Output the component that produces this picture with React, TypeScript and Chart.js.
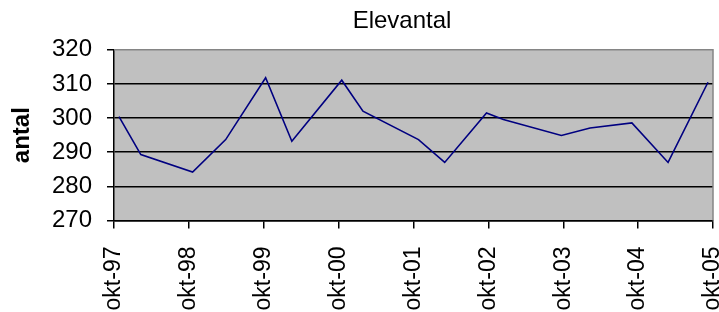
import React, { useEffect, useRef } from "react";
import { Chart, registerables } from "chart.js";

Chart.register(...registerables);

// Tick labels along the time axis (one per year, October)
const tickLabels = ["okt-97", "okt-98", "okt-99", "okt-00", "okt-01", "okt-02", "okt-03", "okt-04", "okt-05"];
const months = [0.8, 4.3, 12.6, 17.9, 24.3, 28.5, 36.5, 39.9, 48.8, 53.0, 59.7, 62.4, 71.7, 76.3, 83.0, 88.8, 95.2];
// Number of pupils (antal)
const values = [300.4, 289.3, 284.2, 293.7, 311.8, 293.2, 311.1, 302, 293.7, 287, 301.5, 299.6, 294.9, 297.1, 298.6, 287, 310.5];

const chartTitle = "Elevantal";
const yTitle = "antal";
const yMin = 270;
const yMax = 320;
const yStep = 10;

const FONT = "'Liberation Sans', Arial, sans-serif";

const plotBg = {
  id: "plotBg",
  afterLayout(chart: any) {
    // centre the title over the plot region of the original chart object
    const t = chart.titleBlock;
    if (t) {
      t.left = 85;
      t.right = 719;
    }
  },
  beforeDraw(chart: any) {
    const { ctx, chartArea } = chart;
    if (!chartArea) return;
    ctx.save();
    ctx.fillStyle = "#c0c0c0";
    ctx.fillRect(chartArea.left, chartArea.top, chartArea.right - chartArea.left, chartArea.bottom - chartArea.top);
    ctx.restore();
  },
  afterDatasetsDraw(chart: any) {
    const { ctx, chartArea } = chart;
    if (!chartArea) return;
    ctx.save();
    ctx.strokeStyle = "#858585";
    ctx.lineWidth = 1.5;
    ctx.beginPath();
    ctx.moveTo(chartArea.left, chartArea.top);
    ctx.lineTo(chartArea.right, chartArea.top);
    ctx.lineTo(chartArea.right, chartArea.bottom);
    ctx.stroke();
    ctx.restore();
  },
};

export default function App() {
  const ref = useRef<HTMLCanvasElement | null>(null);

  useEffect(() => {
    if (!ref.current) return;
    const data = months.map((m, i) => ({ x: m, y: values[i] }));
    const chart = new Chart(ref.current, {
      type: "line",
      data: {
        datasets: [
          {
            data,
            borderColor: "#000080",
            borderWidth: 1.6,
            pointRadius: 0,
            tension: 0,
            fill: false,
          },
        ],
      },
      options: {
        responsive: false,
        animation: false,
        events: [],
        layout: { padding: { left: 0, right: 6, top: 0, bottom: 0 } },
        plugins: {
          legend: { display: false },
          tooltip: { enabled: false },
          title: {
            display: true,
            text: chartTitle,
            color: "#000",
            font: { family: FONT, size: 24, weight: "normal" },
            padding: { top: 7, bottom: 14 },
          },
        },
        scales: {
          x: {
            type: "linear",
            min: 0,
            max: (tickLabels.length - 1) * 12,
            afterBuildTicks(scale: any) {
              scale.ticks = tickLabels.map((_, i) => ({ value: i * 12 }));
            },
            ticks: {
              autoSkip: false,
              minRotation: 90,
              maxRotation: 90,
              padding: 18,
              color: "#000",
              font: { family: FONT, size: 23 },
              callback: (v: any) => tickLabels[Math.round(Number(v) / 12)] ?? "",
            },
            grid: {
              drawOnChartArea: false,
              drawTicks: true,
              tickLength: 8,
              tickColor: "#000",
              color: "#000",
              lineWidth: 1.5,
            },
            border: { display: true, color: "#000", width: 1.5 },
            afterFit(scale: any) {
              scale.height = 91.5;
              scale.paddingLeft = 0;
              scale.paddingRight = 0;
            },
          },
          y: {
            min: yMin,
            max: yMax,
            ticks: {
              stepSize: yStep,
              padding: 15,
              color: "#000",
              font: { family: FONT, size: 24 },
            },
            grid: {
              color: (c: any) => (c.tick && c.tick.value === yMax ? "rgba(0,0,0,0)" : "#000"),
              tickColor: "#000",
              tickLength: 7,
              lineWidth: 1.5,
            },
            border: { display: true, color: "#000", width: 1.5 },
            title: {
              display: true,
              text: yTitle,
              color: "#000",
              font: { family: FONT, size: 24, weight: "bold" },
              padding: { top: 7.6, bottom: 0 },
            },
            afterFit(scale: any) {
              scale.width = 114;
              scale.paddingTop = 0;
              scale.paddingBottom = 0;
            },
          },
        },
      },
      plugins: [plotBg],
    } as any);
    return () => chart.destroy();
  }, []);

  return (
    <div style={{ position: "absolute", left: 0, top: 0, width: 719, height: 312, background: "#fff" }}>
      <canvas ref={ref} width={719} height={312} style={{ display: "block" }} />
    </div>
  );
}
